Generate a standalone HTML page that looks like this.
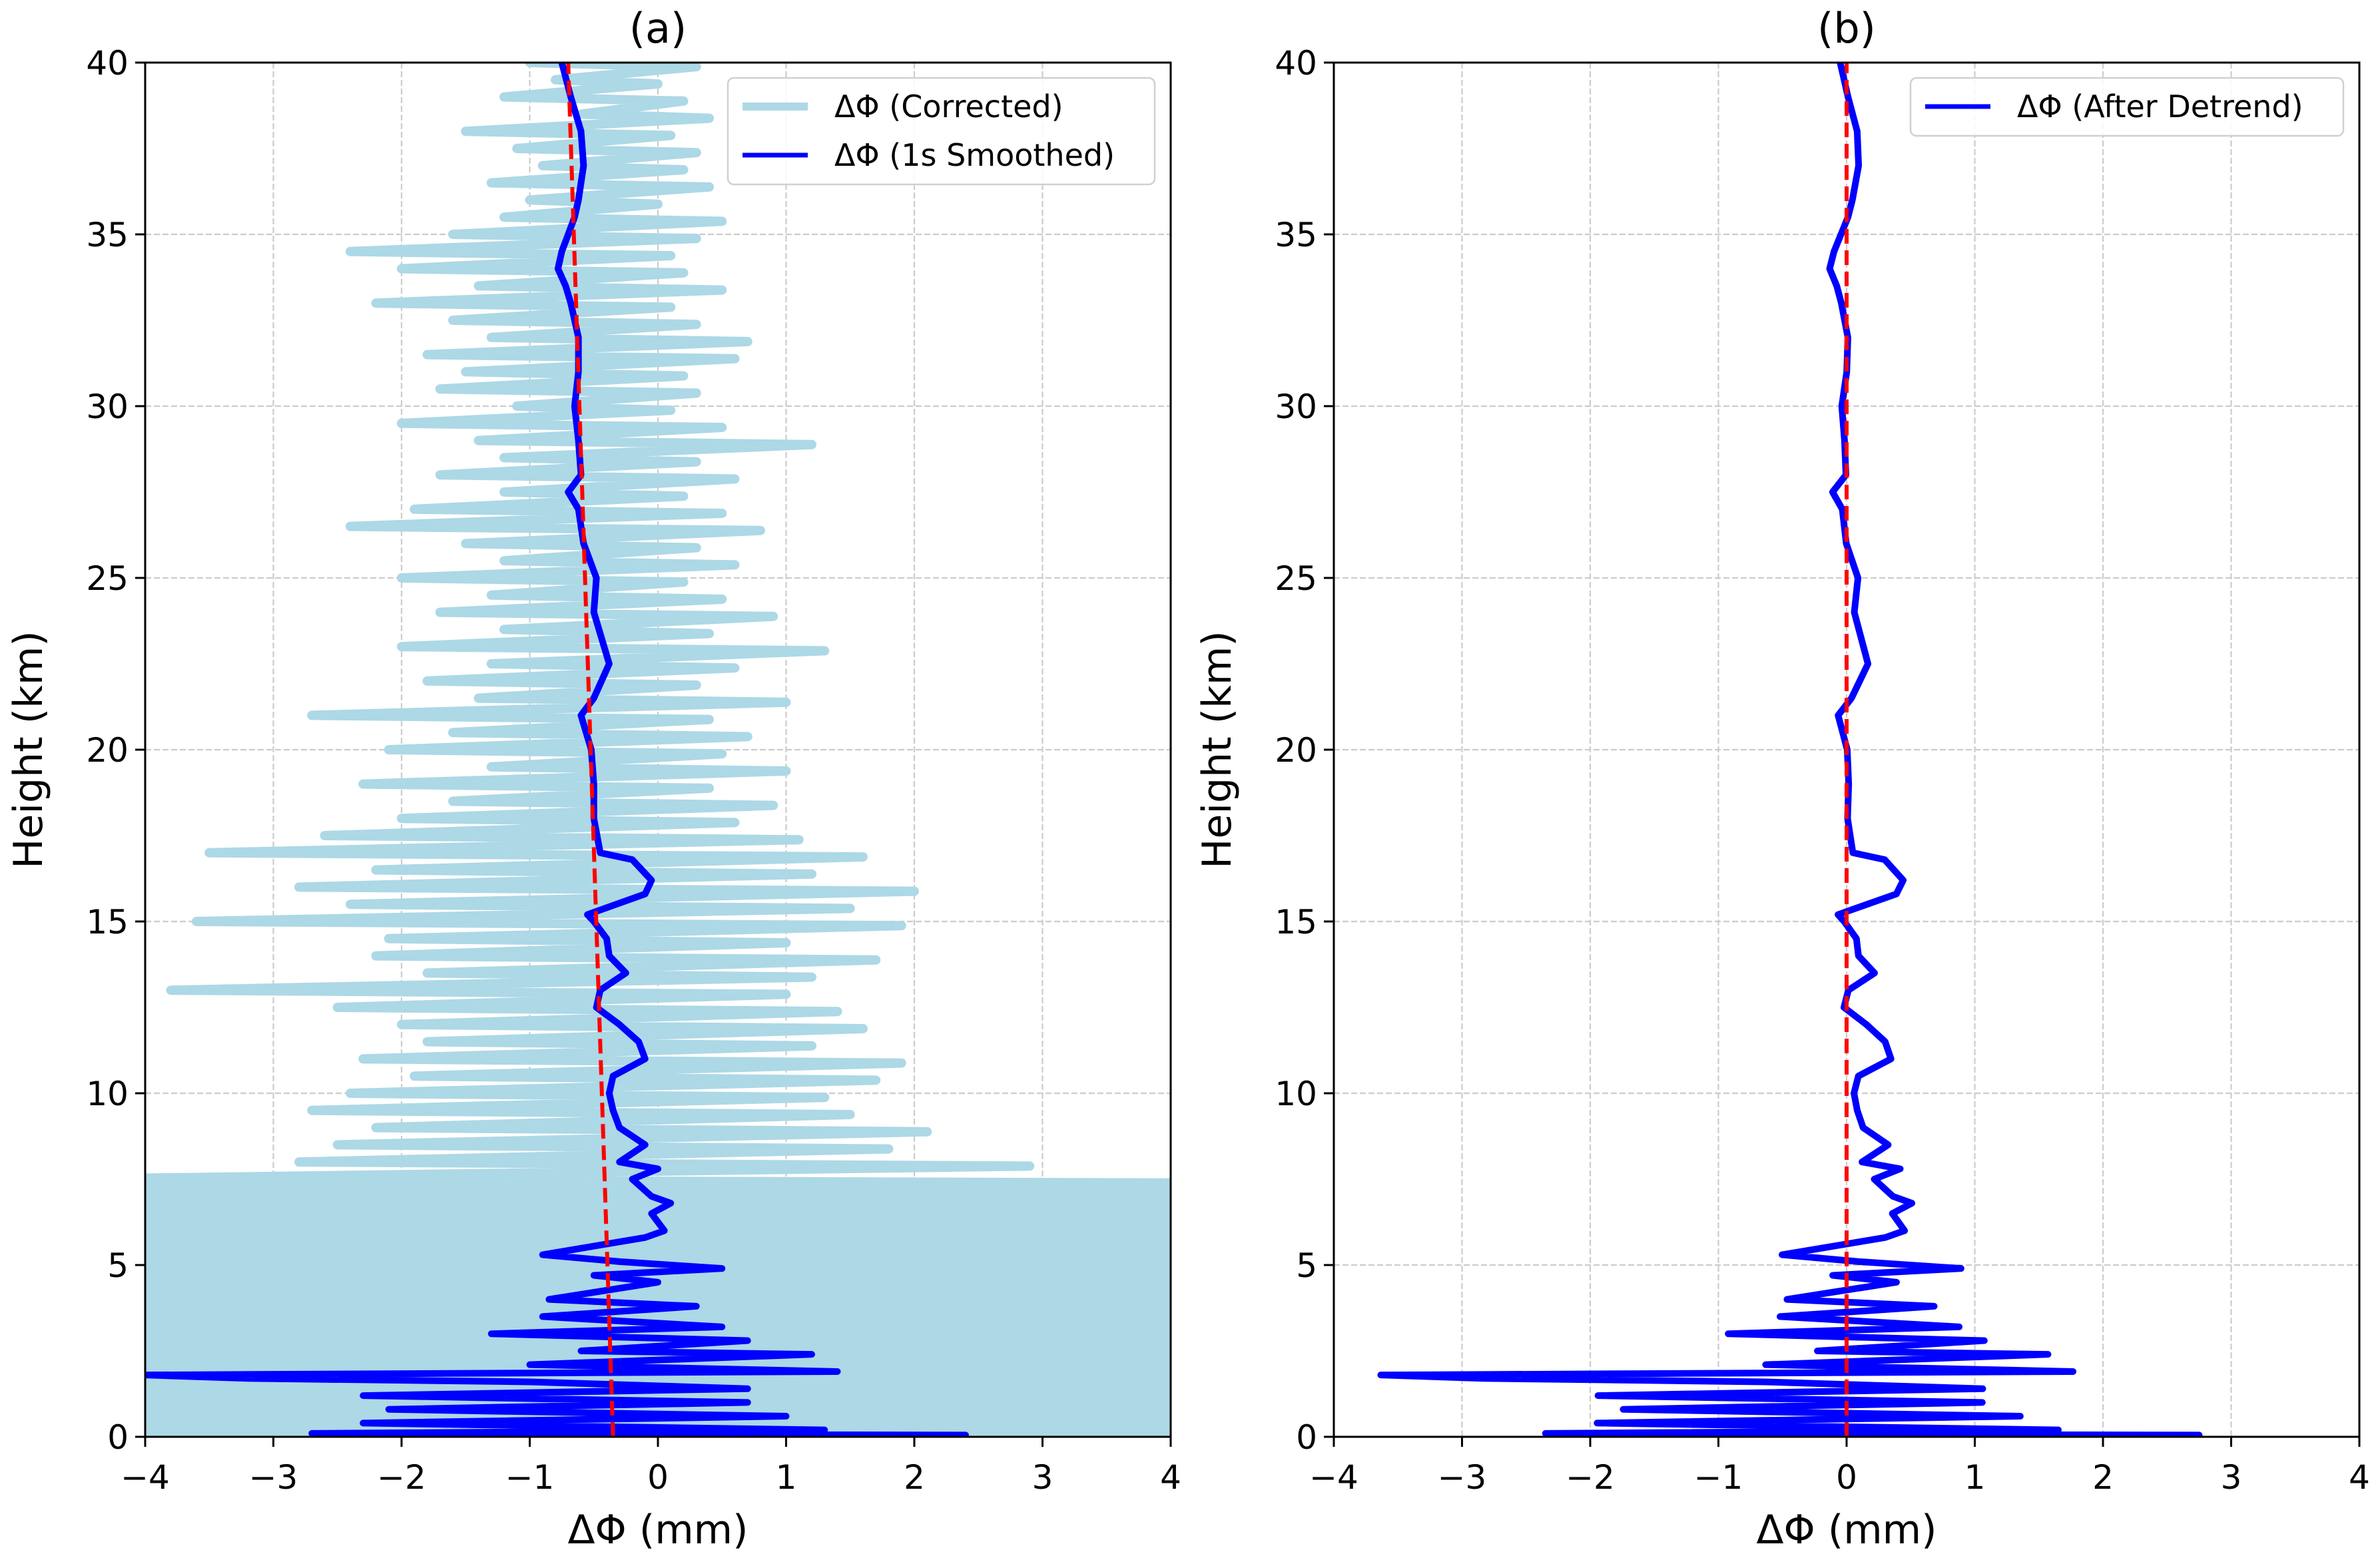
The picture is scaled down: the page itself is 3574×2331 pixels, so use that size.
<!DOCTYPE html>
<html><head><meta charset="utf-8">
<style>
html,body{margin:0;padding:0;background:#fff;}
svg{display:block;font-family:"DejaVu Sans","Liberation Sans",sans-serif;}
</style></head>
<body>
<svg id="fig" width="3574" height="2331" viewBox="0 0 3574 2331" xmlns="http://www.w3.org/2000/svg">
<defs>
<clipPath id="clipA"><rect x="218" y="94" width="1540" height="2064"/></clipPath>
<clipPath id="clipB"><rect x="2003" y="94" width="1540" height="2064"/></clipPath>
</defs>
<g id="panelA"></g>
<g id="panelB"></g>
</svg>
<script>
// ---- data ----
const xTicks = [-4,-3,-2,-1,0,1,2,3,4];
const yTicks = [0,5,10,15,20,25,30,35,40];
// corrected (noisy) data: rows [height, left value, right value]
const corrRows = [
[40,-1.0,0.3],[39.5,-0.8,0.0],[39,-1.2,0.2],[38.5,-0.6,0.4],[38,-1.5,0.1],[37.5,-1.1,0.3],
[37,-0.9,0.2],[36.5,-1.3,0.4],[36,-1.0,0.0],[35.5,-1.2,0.5],[35,-1.6,0.3],[34.5,-2.4,0.1],
[34,-2.0,0.2],[33.5,-1.4,0.5],[33,-2.2,0.1],[32.5,-1.6,0.3],[32,-1.3,0.7],[31.5,-1.8,0.6],
[31,-1.5,0.2],[30.5,-1.7,0.3],[30,-1.1,0.1],[29.5,-2.0,0.5],[29,-1.4,1.2],[28.5,-1.2,0.3],
[28,-1.7,0.6],[27.5,-1.2,0.2],[27,-1.9,0.5],[26.5,-2.4,0.8],[26,-1.5,0.3],[25.5,-1.2,0.6],
[25,-2.0,0.2],[24.5,-1.3,0.5],[24,-1.7,0.9],[23.5,-1.2,0.4],[23,-2.0,1.3],[22.5,-1.3,0.6],
[22,-1.8,0.3],[21.5,-1.4,1.0],[21,-2.7,0.4],[20.5,-1.6,0.7],[20,-2.1,0.5],[19.5,-1.3,1.0],
[19,-2.3,0.4],[18.5,-1.6,0.9],[18,-2.0,0.6],[17.5,-2.6,1.1],[17,-3.5,1.6],[16.5,-2.2,1.2],
[16,-2.8,2.0],[15.5,-2.4,1.5],[15,-3.6,1.9],[14.5,-2.1,1.0],[14,-2.2,1.7],[13.5,-1.8,1.2],
[13,-3.8,1.0],[12.5,-2.5,1.4],[12,-2.0,1.6],[11.5,-1.8,1.2],[11,-2.3,1.9],[10.5,-1.9,1.7],
[10,-2.4,1.3],[9.5,-2.7,1.5],[9,-2.2,2.1],[8.5,-2.5,1.8],[8,-2.8,2.9],
[7.5,-4.6,4.6],[7.25,-4.6,4.6],[7,-4.6,4.6],[6.75,-4.6,4.6],[6.5,-4.6,4.6],[6.25,-4.6,4.6],
[6,-4.6,4.6],[5.75,-4.6,4.6],[5.5,-4.6,4.6],[5.25,-4.6,4.6],[5,-4.6,4.6],[4.75,-4.6,4.6],
[4.5,-4.6,4.6],[4.25,-4.6,4.6],[4,-4.6,4.6],[3.75,-4.6,4.6],[3.5,-4.6,4.6],[3.25,-4.6,4.6],
[3,-4.6,4.6],[2.75,-4.6,4.6],[2.5,-4.6,4.6],[2.25,-4.6,4.6],[2,-4.6,4.6],[1.75,-4.6,4.6],
[1.5,-4.6,4.6],[1.25,-4.6,4.6],[1,-4.6,4.6],[0.75,-4.6,4.6],[0.5,-4.6,4.6],[0.25,-4.6,4.6],
[0.12,-4.6,4.6]
];
// 1s smoothed series
const smH = [40,39,38,37,36,35.5,34.5,34,33.5,33,32,31,30,29,28,27.5,27,26,25,24,23,22.5,21.5,21,20,19,18,17,16.8,16.2,15.8,15.2,15,14.5,14,13.5,13,12.5,12,11.5,11,10.5,10,9.5,9,8.5,8,7.8,7.5,7,6.8,6.5,6,5.8,5.3,5.1,4.9,4.7,4.5,4,3.8,3.5,3.2,3,2.8,2.5,2.4,2.1,1.9,1.8,1.7,1.6,1.4,1.2,1.0,0.8,0.6,0.4,0.2,0.1,0.05,0];
const smV = [-0.75,-0.68,-0.6,-0.58,-0.62,-0.65,-0.75,-0.78,-0.72,-0.68,-0.62,-0.62,-0.65,-0.62,-0.6,-0.7,-0.62,-0.58,-0.48,-0.5,-0.42,-0.38,-0.5,-0.6,-0.52,-0.5,-0.5,-0.45,-0.2,-0.05,-0.1,-0.55,-0.5,-0.4,-0.38,-0.25,-0.45,-0.48,-0.3,-0.15,-0.1,-0.35,-0.38,-0.35,-0.3,-0.1,-0.3,0.0,-0.2,-0.05,0.1,-0.05,0.05,-0.1,-0.9,-0.3,0.5,-0.5,0.0,-0.85,0.3,-0.9,0.5,-1.3,0.7,-0.6,1.2,-1.0,1.4,-4.0,-3.2,-1.0,0.7,-2.3,0.7,-2.1,1.0,-2.3,1.3,-2.7,2.4,0.0];
// linear trend endpoints [height, value]
const trendH = [0,40];
const trendV = [-0.35,-0.7];

// ---- helpers ----
const NS="http://www.w3.org/2000/svg";
function mk(tag,attrs,parent){const e=document.createElementNS(NS,tag);for(const k in attrs)e.setAttribute(k,attrs[k]);parent.appendChild(e);return e;}
function trend(h){return trendV[0]+(trendV[1]-trendV[0])*(h-trendH[0])/(trendH[1]-trendH[0]);}

function drawPanel(g,x0,clipId,title,mode){
  const x1=x0+1540, yTop=94, yBot=2158;
  const sx=v=>x0+(v+4)/8*(x1-x0);
  const sy=h=>yBot-h/40*(yBot-yTop);
  const grid=mk('g',{},g);
  
  
  xTicks.forEach(t=>{const l=mk('line',{x1:sx(t),x2:sx(t),y1:yTop,y2:yBot,stroke:'#cccccc','stroke-width':2.2,'stroke-dasharray':'9,4'},grid);
    });
  yTicks.forEach(t=>{const l=mk('line',{x1:x0,x2:x1,y1:sy(t),y2:sy(t),stroke:'#cccccc','stroke-width':2.2,'stroke-dasharray':'9,4'},grid);
    });
  const data=mk('g',{'clip-path':'url(#'+clipId+')'},g);
  
  
  if(mode==='a'){
    let pts=[];
    corrRows.forEach(r=>{pts.push(sx(r[1])+','+sy(r[0]));pts.push(sx(r[2])+','+sy(r[0]-0.12));});
    const p=mk('polyline',{points:pts.join(' '),fill:'none',stroke:'#add8e6','stroke-width':14,'stroke-linecap':'round','stroke-linejoin':'round'},data);
    
    
  }
  let sp=[];
  smH.forEach((h,i)=>{const v=mode==='a'?smV[i]:smV[i]-trend(h);sp.push(sx(v)+','+sy(h));});
  const s=mk('polyline',{points:sp.join(' '),fill:'none',stroke:'#0000ff','stroke-width':10,'stroke-linecap':'round','stroke-linejoin':'round'},data);
  
  
  const tv0=mode==='a'?trendV[0]:0, tv1=mode==='a'?trendV[1]:0;
  const tr=mk('line',{x1:sx(tv0),y1:sy(trendH[0]),x2:sx(tv1),y2:sy(trendH[1]),stroke:'#ff0000','stroke-width':6,'stroke-dasharray':'22,10'},data);
  
  
  const sp2=mk('rect',{x:x0,y:yTop,width:x1-x0,height:yBot-yTop,fill:'none',stroke:'#000','stroke-width':3},g);
  
  
  xTicks.forEach(t=>{
    const tk=mk('line',{x1:sx(t),x2:sx(t),y1:yBot,y2:yBot+15,stroke:'#000','stroke-width':3},g);
    
    const tx=mk('text',{x:sx(t),y:yBot+78,'font-size':50,'text-anchor':'middle',fill:'#000'},g);
    tx.textContent=(t<0?'\u2212'+(-t):''+t);
    
  });
  yTicks.forEach(t=>{
    const tk=mk('line',{x1:x0-15,x2:x0,y1:sy(t),y2:sy(t),stroke:'#000','stroke-width':3},g);
    
    const tx=mk('text',{x:x0-25,y:sy(t)+18,'font-size':50,'text-anchor':'end',fill:'#000'},g);
    tx.textContent=''+t;
    
  });
  const tt=mk('text',{x:(x0+x1)/2,y:64,'font-size':62,'text-anchor':'middle',fill:'#000'},g);
  tt.textContent=title;
  
  const xl=mk('text',{x:(x0+x1)/2,y:2318,'font-size':60,'text-anchor':'middle',fill:'#000'},g);
  xl.textContent='\u0394\u03A6 (mm)';
  
  const yl=mk('text',{x:0,y:0,'font-size':60,'text-anchor':'middle',fill:'#000',transform:'translate('+(x0-155)+',1126) rotate(-90)'},g);
  yl.textContent='Height (km)';
  
  const lg=mk('g',{},g);
  
  
  const entries=mode==='a'?[['#add8e6',12,'\u0394\u03A6 (Corrected)'],['#0000ff',7,'\u0394\u03A6 (1s Smoothed)']]:[['#0000ff',7,'\u0394\u03A6 (After Detrend)']];
  const lw=mode==='a'?641:650, lx=x1-lw-24, ly=117, lh=mode==='a'?160:87;
  const box=mk('rect',{x:lx,y:ly,width:lw,height:lh,rx:9,fill:'#fff','fill-opacity':0.85,stroke:'#d0d0d0','stroke-width':2.5},lg);
  
  entries.forEach((e,i)=>{
    const cy=ly+43+i*73;
    const ln=mk('line',{x1:lx+22,x2:lx+120,y1:cy,y2:cy,stroke:e[0],'stroke-width':e[1]},lg);
    
    const t=mk('text',{x:lx+160,y:cy+16,'font-size':46,fill:'#000'},lg);
    t.textContent=e[2];
    
  });
}
drawPanel(document.getElementById('panelA'),218,'clipA','(a)','a');
drawPanel(document.getElementById('panelB'),2003,'clipB','(b)','b');
</script>
</body></html>
